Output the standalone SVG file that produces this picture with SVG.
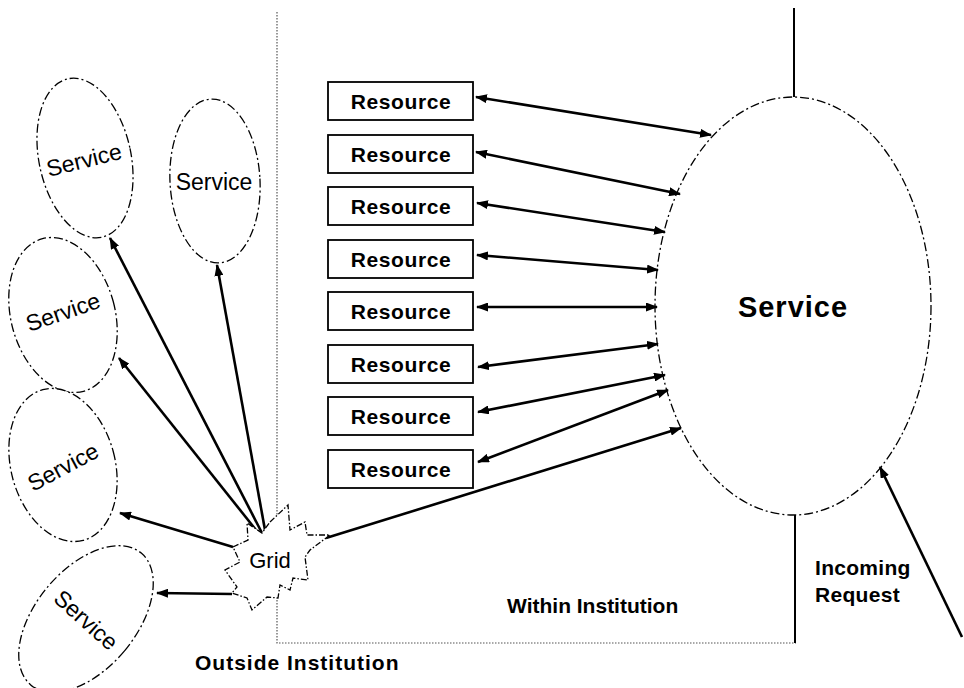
<svg xmlns="http://www.w3.org/2000/svg" width="964" height="688" viewBox="0 0 964 688">
<defs>
<marker id="ah" markerUnits="userSpaceOnUse" markerWidth="12" markerHeight="9" refX="11" refY="4.5" orient="auto-start-reverse">
<path d="M0,0 L12,4.5 L0,9 z" fill="#000"/>
</marker>
<style>
.svc{fill:#fff;stroke:#000;stroke-width:1.3;stroke-dasharray:9 3 2 3}
.box{fill:#fff;stroke:#000;stroke-width:1.8}
.bnd{fill:none;stroke:#555;stroke-width:1.2;stroke-dasharray:1.5 1.5}
.sol{fill:none;stroke:#000;stroke-width:2}
.ln{fill:none;stroke:#000;stroke-width:2.6}
.dbl{marker-start:url(#ah);marker-end:url(#ah)}
.one{marker-end:url(#ah)}
text{font-family:"Liberation Sans",Arial,sans-serif;fill:#000}
.rt{font-size:21px;font-weight:bold;text-anchor:middle;letter-spacing:0.6px}
.st{font-size:23px;text-anchor:middle}
.lb{font-size:21px;font-weight:bold}
</style>
</defs>
<rect width="964" height="688" fill="#fff"/>

<g id="boundary">
<path class="bnd" d="M277,12 L277,643 L796,643"/>
<path class="sol" d="M794,8 L794,97"/>
<path class="sol" d="M795,515 L795,643"/>
</g>

<g id="service-main">
<ellipse class="svc" cx="793" cy="306" rx="138" ry="209"/>
<text x="793" y="317" style="font-size:29px;font-weight:bold;text-anchor:middle;letter-spacing:1px">Service</text>
</g>

<g id="service-a">
<ellipse class="svc" cx="85" cy="158" rx="46" ry="81" transform="rotate(-12 85 158)"/>
<text class="st" x="84" y="168" transform="rotate(-14 84 160)">Service</text>
</g>
<g id="service-b">
<ellipse class="svc" cx="215" cy="181" rx="45" ry="82" transform="rotate(-3 215 181)"/>
<text class="st" x="214" y="190">Service</text>
</g>
<g id="service-c">
<ellipse class="svc" cx="63" cy="315" rx="52" ry="79" transform="rotate(-15 63 315)"/>
<text class="st" x="63" y="320" transform="rotate(-19 63 312)">Service</text>
</g>
<g id="service-d">
<ellipse class="svc" cx="63" cy="465" rx="52" ry="78" transform="rotate(-15 63 465)"/>
<text class="st" x="63" y="475" transform="rotate(-28 63 467)">Service</text>
</g>
<g id="service-e">
<ellipse class="svc" cx="86" cy="619" rx="50" ry="86" transform="rotate(40 86 619)"/>
<text class="st" x="86" y="628" transform="rotate(42 86 620)">Service</text>
</g>

<g id="resources">
<g id="r1"><rect class="box" x="328" y="82" width="145" height="38"/><text class="rt" x="401" y="109">Resource</text></g>
<g id="r2"><rect class="box" x="328" y="135" width="145" height="38"/><text class="rt" x="401" y="162">Resource</text></g>
<g id="r3"><rect class="box" x="328" y="187" width="145" height="38"/><text class="rt" x="401" y="214">Resource</text></g>
<g id="r4"><rect class="box" x="328" y="240" width="145" height="38"/><text class="rt" x="401" y="267">Resource</text></g>
<g id="r5"><rect class="box" x="328" y="292" width="145" height="38"/><text class="rt" x="401" y="319">Resource</text></g>
<g id="r6"><rect class="box" x="328" y="345" width="145" height="38"/><text class="rt" x="401" y="372">Resource</text></g>
<g id="r7"><rect class="box" x="328" y="397" width="145" height="38"/><text class="rt" x="401" y="424">Resource</text></g>
<g id="r8"><rect class="box" x="328" y="450" width="145" height="38"/><text class="rt" x="401" y="477">Resource</text></g>
</g>

<g id="connectors">
<line class="ln dbl" x1="476" y1="97" x2="711" y2="135"/>
<line class="ln dbl" x1="476" y1="152" x2="680" y2="194"/>
<line class="ln dbl" x1="477" y1="203" x2="665" y2="232"/>
<line class="ln dbl" x1="477" y1="255" x2="658" y2="270"/>
<line class="ln dbl" x1="477" y1="307" x2="657" y2="307"/>
<line class="ln dbl" x1="478" y1="367" x2="658" y2="344"/>
<line class="ln dbl" x1="478" y1="412" x2="665" y2="375"/>
<line class="ln dbl" x1="478" y1="462" x2="668" y2="390"/>
<line class="ln one" x1="326" y1="538" x2="681" y2="428"/>
<line class="ln one" x1="962" y1="637" x2="880" y2="467"/>
<line class="ln one" x1="262" y1="533" x2="110" y2="238"/>
<line class="ln one" x1="265" y1="530" x2="217" y2="265"/>
<line class="ln one" x1="260" y1="535" x2="119" y2="358"/>
<line class="ln one" x1="233" y1="547" x2="120" y2="513"/>
<line class="ln one" x1="232" y1="594" x2="157" y2="593"/>
</g>

<g id="grid">
<polygon class="svc" style="stroke-dasharray:6 2 1.5 2" points="270,522 288,505 290,530 305,522 307,535 330,535 310,550 305,557 308,580 293,578 290,590 280,585 278,598 267,597 252,610 247,598 232,593 237,587 225,570 240,562 233,547 248,540 247,523 262,533"/>
<text x="270" y="568" style="font-size:22px;text-anchor:middle">Grid</text>
</g>

<g id="labels">
<text class="lb" x="507" y="613">Within Institution</text>
<text class="lb" x="195" y="670" style="letter-spacing:1px">Outside Institution</text>
<text class="lb" x="815" y="575" style="letter-spacing:0.3px">Incoming</text>
<text class="lb" x="815" y="602" style="letter-spacing:0.3px">Request</text>
</g>
</svg>
